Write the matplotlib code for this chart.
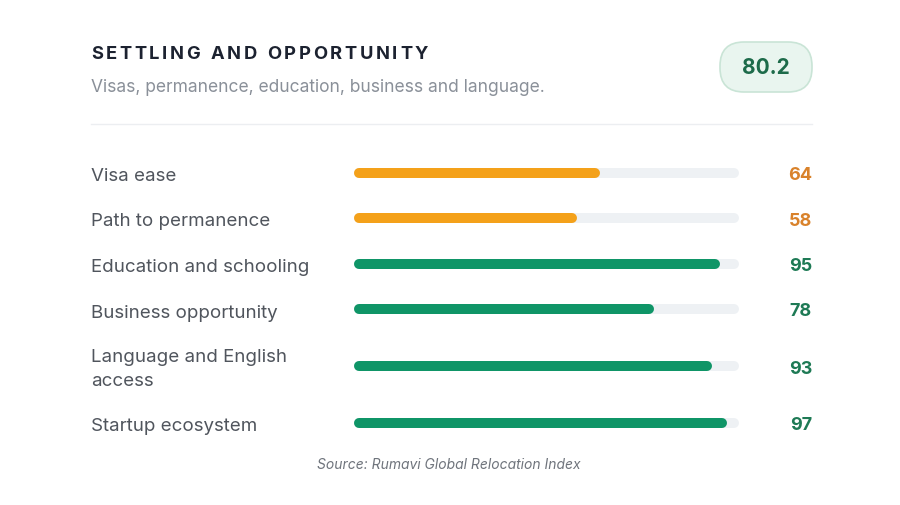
import matplotlib
matplotlib.use("Agg")
import matplotlib.pyplot as plt
from matplotlib.patches import FancyBboxPatch

# data
labels = ["Visa ease", "Path to permanence", "Education and schooling",
          "Business opportunity", "Language and English\naccess", "Startup ecosystem"]
scores = [64, 58, 95, 78, 93, 97]
overall = 80.2
title = "SETTLING AND OPPORTUNITY"
subtitle = "Visas, permanence, education, business and language."
source = "Source: Rumavi Global Relocation Index"

ORANGE = "#f4a11a"
ORANGE_TXT = "#d9822b"
GREEN = "#0f9567"
GREEN_TXT = "#1e7a55"
TRACK = "#eef1f4"
W, H = 900, 506

plt.rcParams['font.family'] = ['Inter', 'DejaVu Sans']

fig = plt.figure(figsize=(9, 5.06), dpi=100)
fig.patch.set_facecolor("white")

# background axes in pixel units for the header / footer
bg = fig.add_axes([0, 0, 1, 1])
bg.set_xlim(0, W)
bg.set_ylim(H, 0)
bg.axis("off")

# letter-spaced title
renderer = fig.canvas.get_renderer()
x = 91
for ch in title:
    t = bg.text(x, 54, ch, fontsize=13.2, fontweight="bold", color="#1c2230",
                va="center", ha="left")
    if ch == " ":
        w = 5.5
    else:
        w = t.get_window_extent(renderer).width
    x += w + 2.6

bg.text(91, 87, subtitle, fontsize=12.55, color="#8a9099", va="center", ha="left")

badge = FancyBboxPatch((720, 43), 92, 50, boxstyle="round,pad=0,rounding_size=24",
                       facecolor="#e9f5ef", edgecolor="#c9e4d6", linewidth=1.2)
bg.add_patch(badge)
bg.text(766, 68, f"{overall:.1f}", fontsize=15, fontweight="bold", color="#1d6b4a",
        va="center", ha="center")

bg.plot([91, 812], [125, 125], color="#eceef1", linewidth=1)

bg.text(449, 465, source, fontsize=10, fontstyle="italic", color="#6f747c",
        va="center", ha="center")

# bar axes: x from 354 to 739 px, y in pixel units
ax = fig.add_axes([354 / W, 0, (739 - 354) / W, 1])
ax.set_xlim(0, 100)
ax.set_ylim(H, 0)
ax.axis("off")

# row centres: two-line labels get extra room
ys = []
y = 173.5
prev_lines = 1
for i, lab in enumerate(labels):
    n = lab.count("\n") + 1
    if i > 0:
        y += 45.5 + 11.5 * ((n - 1) + (prev_lines - 1))
    ys.append(y)
    prev_lines = n

r = 5 / (739 - 354) * 100  # cap radius in data units
lw = 10 * 0.72
for yy, v, lab in zip(ys, scores, labels):
    col = GREEN if v >= 70 else ORANGE
    tcol = GREEN_TXT if v >= 70 else ORANGE_TXT
    ax.plot([r, 100 - r], [yy, yy], color=TRACK, linewidth=lw, solid_capstyle="round")
    ax.plot([r, v - r], [yy, yy], color=col, linewidth=lw, solid_capstyle="round")
    lines = lab.split("\n")
    for j, line in enumerate(lines):
        base = yy + 7.5 + (j - (len(lines) - 1) / 2) * 24
        bg.text(91, base, line, fontsize=13.5, color="#50555d", va="baseline", ha="left")
    bg.text(812, yy + 6.5, str(v), fontsize=13, fontweight="bold", color=tcol,
            va="baseline", ha="right")

fig.savefig("out.png", dpi=100, facecolor="white")
